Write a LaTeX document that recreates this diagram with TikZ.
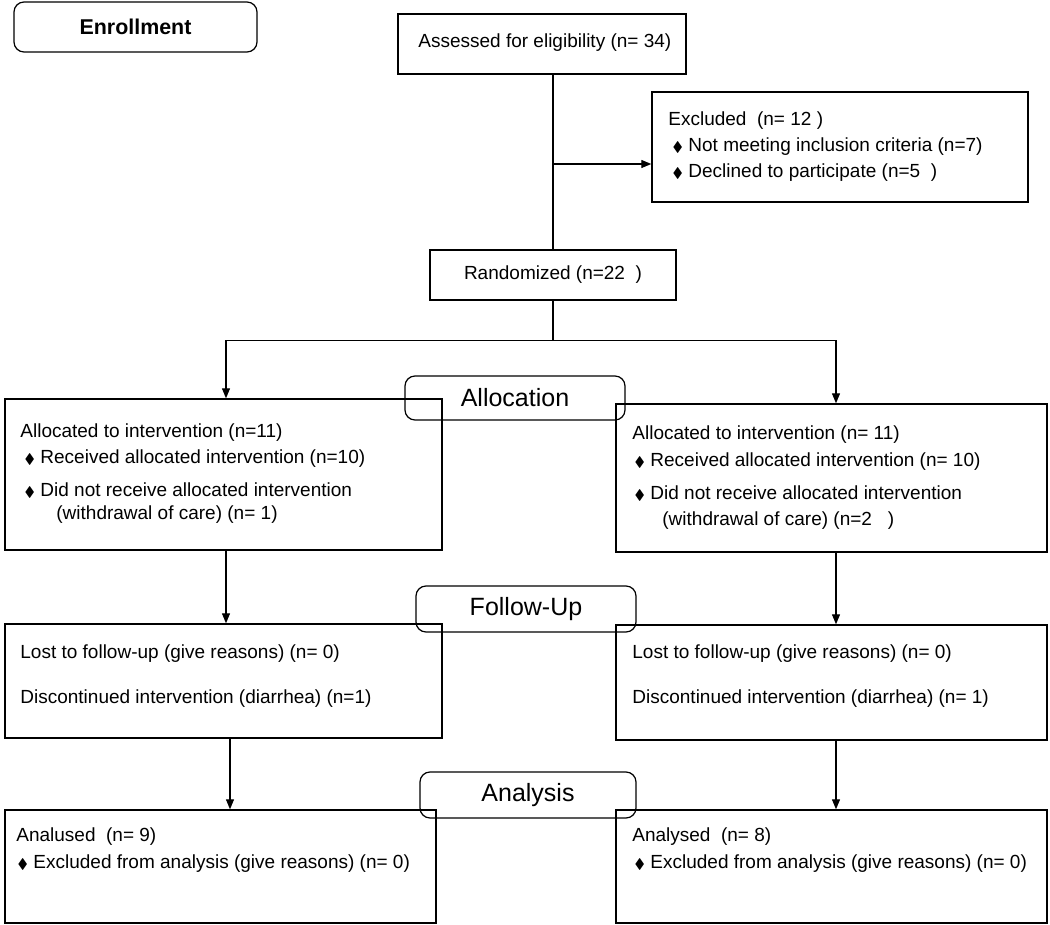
\documentclass[tikz,border=0pt]{standalone}
\usepackage{fontspec}
\setmainfont{Liberation Sans}
\usepackage{amssymb}
\usetikzlibrary{arrows.meta}
\tikzset{
  box/.style={draw, line width=0.7pt, inner sep=0pt},
  stage/.style={draw, line width=0.6pt, rounded corners=5pt, inner sep=0pt},
  txt/.style={anchor=west, inner sep=0pt, yshift=-1.5pt, font=\fontsize{9.5}{11}\selectfont},
  arr/.style={-{Triangle[length=5pt,width=4pt]}, line width=0.6pt},
}
\newcommand{\dia}{{\scriptsize$\blacklozenge$}\ }
\begin{document}
\begin{tikzpicture}[x=0.5pt, y=-0.5pt]
    \useasboundingbox (0,0) rectangle (1050,925);
    % boxes
    \node[stage, minimum width=121.5pt, minimum height=25pt, font=\bfseries\fontsize{10.7}{12}\selectfont] (enrol) at (135.5,27) {Enrollment};
    \node[box, minimum width=144pt, minimum height=30pt] (assess) at (542,44) {};
    \node[box, minimum width=188pt, minimum height=55pt] (excl) at (840,147) {};
    \node[box, minimum width=123pt, minimum height=25pt, font=\fontsize{9.5}{11}\selectfont] (rand) at (553,275) {Randomized (n=22\ \ )};
    \node[box, minimum width=218.5pt, minimum height=75.5pt] (allocL) at (223.5,474.5) {};
    \node[box, minimum width=215.5pt, minimum height=74pt] (allocR) at (831.5,478) {};
    \node[box, minimum width=218.5pt, minimum height=57pt] (fuL) at (223.5,681) {};
    \node[box, minimum width=215.5pt, minimum height=57.5pt] (fuR) at (831.5,682.5) {};
    \node[box, minimum width=215.5pt, minimum height=56.5pt] (anaL) at (220.5,866.5) {};
    \node[box, minimum width=215.5pt, minimum height=56.5pt] (anaR) at (831.5,866.5) {};
    % stage labels
    \node[stage, minimum width=110pt, minimum height=22pt, font=\fontsize{12.5}{14}\selectfont] (alloc) at (515,398) {Allocation};
    \node[stage, minimum width=110pt, minimum height=23pt, font=\fontsize{12.5}{14}\selectfont] (follow) at (526,609) {Follow-Up};
    \node[stage, minimum width=108pt, minimum height=23pt, font=\fontsize{12.5}{14}\selectfont] (analysis) at (528,795) {Analysis};
    % texts
    \node[txt] (tAssess) at (418,40) {Assessed for eligibility (n= 34)};
    \node[txt] (tExcl) at (668,118) {Excluded\ \ (n= 12 )};
    \node[txt] (tExclA) at (672,144) {\dia Not meeting inclusion criteria (n=7)};
    \node[txt] (tExclB) at (672,170) {\dia Declined to participate (n=5\ \ )};
    \node[txt] (tAllocL) at (20,430) {Allocated to intervention (n=11)};
    \node[txt] (tAllocLa) at (24,456) {\dia Received allocated intervention (n=10)};
    \node[txt] (tAllocLb) at (24,487) {\dia Did not receive allocated intervention};
    \node[txt] (tAllocLc) at (56,512) {(withdrawal of care) (n= 1)};
    \node[txt] (tAllocR) at (632,432) {Allocated to intervention (n= 11)};
    \node[txt] (tAllocRa) at (634,459) {\dia Received allocated intervention (n= 10)};
    \node[txt] (tAllocRb) at (634,490) {\dia Did not receive allocated intervention};
    \node[txt] (tAllocRc) at (662,518) {(withdrawal of care) (n=2\ \ \ )};
    \node[txt] (tFuLa) at (20,651) {Lost to follow-up (give reasons) (n= 0)};
    \node[txt] (tFuLb) at (20,696) {Discontinued intervention (diarrhea) (n=1)};
    \node[txt] (tFuRa) at (632,651) {Lost to follow-up (give reasons) (n= 0)};
    \node[txt] (tFuRb) at (632,696) {Discontinued intervention (diarrhea) (n= 1)};
    \node[txt] (tAnaL) at (16,834) {Analused\ \ (n= 9)};
    \node[txt] (tAnaLa) at (17,861) {\dia Excluded from analysis (give reasons) (n= 0)};
    \node[txt] (tAnaR) at (632,834) {Analysed\ \ (n= 8)};
    \node[txt] (tAnaRa) at (634,861) {\dia Excluded from analysis (give reasons) (n= 0)};
    % connectors
    \draw[line width=0.6pt] (rand.north |- assess.south) -- (rand.north);
    \coordinate (split) at (553,164);
    \draw[arr] (split) -- (split -| excl.west);
    \draw[line width=0.6pt] (rand.south) -- ++(0,40) coordinate (fork);
    \draw[arr] (fork) -| ([xshift=1.25pt]allocL.north);
    \draw[arr] (fork) -| ([xshift=2.25pt]allocR.north);
    \draw[arr] ([xshift=1.25pt]allocL.south) -- ([xshift=1.25pt]allocL.south |- fuL.north);
    \draw[arr] ([xshift=2.25pt]allocR.south) -- ([xshift=2.25pt]allocR.south |- fuR.north);
    \draw[arr] ([xshift=3.25pt]fuL.south) -- ([xshift=3.25pt]fuL.south |- anaL.north);
    \draw[arr] ([xshift=2.25pt]fuR.south) -- ([xshift=2.25pt]fuR.south |- anaR.north);
\end{tikzpicture}
\end{document}
